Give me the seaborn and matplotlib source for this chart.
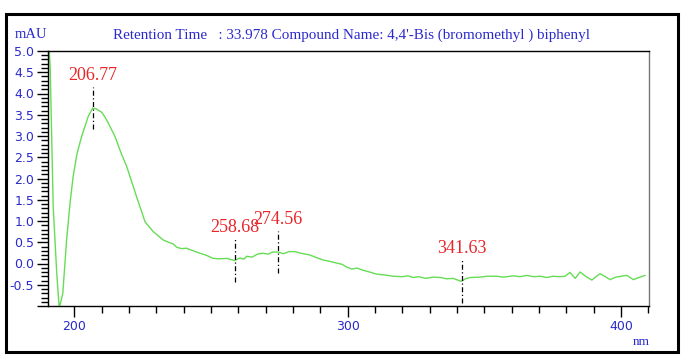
import numpy as np
import pandas as pd
import matplotlib
matplotlib.use('Agg')
import matplotlib.pyplot as plt
import seaborn as sns
from matplotlib.patches import Rectangle
from matplotlib.ticker import MultipleLocator, FormatStrFormatter

# UV spectrum (wavelength in nm, absorbance in mAU)
wavelength = [
    190.4, 191.2, 192.3, 193.6, 194.5, 195.8, 197.2, 198.5, 199.6, 201.0, 202.7,
    205.1, 206.8, 208.0, 210.0, 211.2, 212.4, 214.9, 217.0, 219.2, 222.8,
    225.9, 228.9, 232.6, 234.5, 236.2, 237.5, 239.3, 241.0, 243.5, 246.0,
    248.0, 250.9, 253.0, 255.8, 258.7, 260.5, 262.0, 263.1, 265.0, 267.0,
    269.1, 271.0, 272.5, 274.6, 276.5, 278.5, 280.7, 283.0, 286.2, 288.5,
    291.1, 293.5, 296.0, 298.0, 299.5, 301.5, 303.5, 305.7, 308.0, 310.6,
    313.5, 316.7, 320.0, 322.0, 324.0, 326.0, 328.5, 331.3, 334.0, 336.2,
    338.5, 341.6, 343.0, 344.8, 348.4, 351.0, 354.5, 357.0, 360.6, 363.0,
    365.5, 368.0, 370.5, 372.8, 375.0, 377.5, 379.5, 381.3, 383.2, 385.0,
    387.0, 389.3, 391.0, 392.3, 394.0, 396.0, 398.0, 400.0, 402.1, 404.5,
    406.5, 408.8,
]
absorbance = [
    5.60, 4.60, 1.34, -0.23, -1.05, -0.71, 0.55, 1.45, 2.05, 2.58, 2.99,
    3.46, 3.66, 3.64, 3.56, 3.45, 3.31, 2.99, 2.62, 2.28, 1.57,
    0.98, 0.75, 0.55, 0.50, 0.46, 0.38, 0.35, 0.36, 0.30, 0.24,
    0.20, 0.12, 0.11, 0.12, 0.07, 0.13, 0.10, 0.17, 0.15, 0.22,
    0.24, 0.22, 0.27, 0.27, 0.23, 0.28, 0.28, 0.24, 0.20, 0.14,
    0.08, 0.05, 0.01, -0.02, -0.08, -0.13, -0.11, -0.16, -0.20, -0.25,
    -0.27, -0.30, -0.31, -0.29, -0.33, -0.31, -0.35, -0.32, -0.33, -0.36,
    -0.35, -0.42, -0.36, -0.33, -0.32, -0.30, -0.30, -0.32, -0.29, -0.31,
    -0.28, -0.31, -0.30, -0.33, -0.30, -0.31, -0.30, -0.21, -0.35, -0.20,
    -0.30, -0.39, -0.30, -0.24, -0.30, -0.38, -0.32, -0.30, -0.28, -0.38,
    -0.33, -0.28,
]

peak_nm = [206.77, 258.68, 274.56, 341.63]
peak_labels = ['206.77', '258.68', '274.56', '341.63']

title_text = "Retention Time   : 33.978 Compound Name: 4,4'-Bis (bromomethyl ) biphenyl"

BLUE = '#2a2acc'
RED = '#e8262a'
GREEN = '#66dd55'
SERIF = ['Liberation Serif', 'DejaVu Serif']

sns.set_style('white')
plt.rcParams['font.family'] = ['DejaVu Sans']

df = pd.DataFrame({'nm': wavelength, 'mAU': absorbance})

fig = plt.figure(figsize=(6.92, 3.61), dpi=100)
ax = fig.add_axes([48 / 692, 1 - 306 / 361, 601 / 692, 255 / 361])

sns.lineplot(data=df, x='nm', y='mAU', ax=ax, color=GREEN, linewidth=1.0,
             sort=False, estimator=None)

ax.set_xlim(190.4, 410.2)
ax.set_ylim(-1.0, 5.0)
ax.set_xlabel('')
ax.set_ylabel('')

# axis ticks
ax.xaxis.set_major_locator(MultipleLocator(100))
ax.xaxis.set_minor_locator(MultipleLocator(10))
ax.yaxis.set_major_locator(MultipleLocator(0.5))
ax.yaxis.set_minor_locator(MultipleLocator(0.1))
ax.yaxis.set_major_formatter(FormatStrFormatter('%.1f'))
ax.tick_params(axis='both', which='major', direction='out', length=8, width=1,
               color='black', labelcolor=BLUE, labelsize=9, pad=2)
ax.tick_params(axis='both', which='minor', direction='out', length=5, width=1,
               color='black')
ax.tick_params(axis='y', which='both', left=True)
ax.tick_params(axis='x', which='both', bottom=True)
for t in ax.get_yticklabels():
    if t.get_text() in ('-1.0', '\u22121.0'):
        t.set_visible(False)

for side in ['left', 'bottom', 'top']:
    ax.spines[side].set_color('black')
    ax.spines[side].set_linewidth(1.0)
ax.spines['right'].set_color('#777777')
ax.spines['right'].set_linewidth(1.0)

# peak markers
for nm, lab in zip(peak_nm, peak_labels):
    yv = np.interp(nm, wavelength, absorbance)
    ax.plot([nm, nm], [yv - 0.5, yv + 0.5], color='black', linewidth=0.9,
            linestyle=(0, (4, 2, 1, 2)))
    ax.annotate(lab, xy=(nm, yv + 0.5), xytext=(0, 2), textcoords='offset points',
                ha='center', va='bottom', color=RED, fontsize=13, family=SERIF)

# labels outside the axes
fig.text(15 / 692, 1 - 35 / 361, 'mAU', color=BLUE, fontsize=10.5,
         family=SERIF, ha='left', va='center')
fig.text(113 / 692, 1 - 35 / 361, title_text, color=BLUE, fontsize=10.9,
         family=SERIF, ha='left', va='center')
fig.text(650 / 692, 1 - 342 / 361, 'nm', color=BLUE, fontsize=9.5,
         family=SERIF, ha='right', va='center')

# outer frame
fig.patches.append(Rectangle((6 / 692, 1 - 352 / 361), 672 / 692, 338 / 361,
                             transform=fig.transFigure, fill=False,
                             edgecolor='black', linewidth=2.2))

fig.savefig('out.png', dpi=100)
plt.close(fig)
